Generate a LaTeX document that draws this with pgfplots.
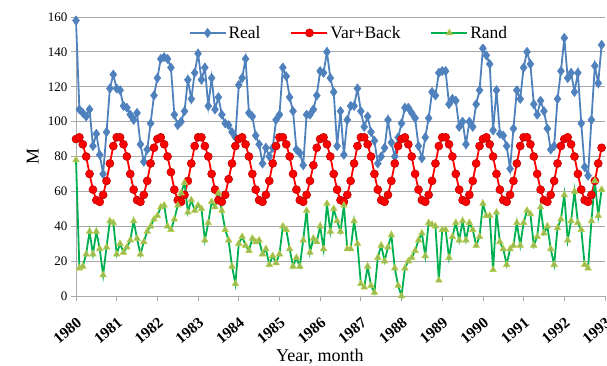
\documentclass[border=0pt]{standalone}
\usepackage{pgfplots}
\usepackage{pgfplotstable}
\pgfplotsset{compat=1.18}
\usepackage{fontspec}
\setmainfont{Liberation Serif}
\definecolor{realc}{RGB}{79,129,189}
\definecolor{randl}{RGB}{0,176,80}
\definecolor{randf}{RGB}{155,187,89}
\definecolor{gridc}{RGB}{170,170,170}

\pgfplotstableread{
m real vb rand
0 158 90 78
1 107 91 16
2 105 87 17
3 103 80 24
4 107 70 37
5 86 61 24
6 93 55 37
7 81 54 27
8 70 58 12
9 94 66 28
10 119 76 43
11 127 86 42
12 119 91 24
13 118 91 30
14 109 87 25
15 108 80 28
16 104 70 32
17 101 61 43
18 105 55 33
19 87 54 24
20 77 58 31
21 84 66 37
22 99 76 40
23 115 85 44
24 125 90 46
25 136 91 51
26 137 87 52
27 136 80 40
28 131 71 38
29 104 61 44
30 98 55 52
31 100 54 59
32 106 58 65
33 124 66 48
34 113 76 55
35 128 86 49
36 139 91 52
37 124 91 50
38 131 86 32
39 109 80 42
40 125 70 54
41 107 61 51
42 114 55 59
43 104 54 49
44 99 58 38
45 98 67 32
46 94 76 17
47 91 86 7
48 121 90 30
49 125 91 34
50 136 87 29
51 105 80 26
52 103 70 33
53 92 61 31
54 87 55 32
55 76 54 24
56 85 58 27
57 80 66 18
58 85 76 23
59 101 86 19
60 104 91 24
61 131 91 40
62 126 87 38
63 114 80 27
64 106 70 17
65 84 61 22
66 82 55 17
67 75 54 32
68 104 58 49
69 104 66 25
70 107 75 33
71 115 85 31
72 129 90 40
73 128 91 27
74 140 87 53
75 125 80 37
76 117 70 50
77 86 61 43
78 106 55 37
79 81 54 52
80 101 58 27
81 109 66 27
82 109 76 43
83 119 86 30
84 106 91 7
85 97 91 5
86 103 87 17
87 94 80 6
88 89 70 2
89 76 61 22
90 80 55 29
91 85 54 20
92 101 58 28
93 88 66 35
94 80 76 16
95 91 86 6
96 99 90 0
97 108 91 16
98 108 87 20
99 105 80 22
100 102 70 26
101 86 61 32
102 79 55 36
103 91 54 23
104 102 58 42
105 117 66 41
106 115 76 40
107 128 86 9
108 129 91 38
109 129 91 38
110 110 87 22
111 113 80 34
112 112 70 42
113 97 61 32
114 100 55 43
115 87 54 32
116 100 58 42
117 97 66 38
118 110 76 29
119 118 86 34
120 142 90 53
121 138 91 46
122 133 87 46
123 95 80 15
124 118 70 48
125 93 61 31
126 92 55 27
127 86 54 18
128 73 58 27
129 96 66 29
130 118 76 42
131 113 86 29
132 131 91 42
133 140 91 49
134 133 87 47
135 110 80 29
136 104 70 34
137 112 61 51
138 106 55 36
139 96 54 40
140 84 58 27
141 86 66 18
142 113 76 39
143 129 86 44
144 148 90 58
145 125 91 32
146 128 87 43
147 117 80 60
148 128 70 42
149 99 61 38
150 74 55 18
151 69 54 16
152 101 58 43
153 132 66 66
154 122 76 46
155 144 85 61
}\data

\begin{document}
\begin{tikzpicture}
\begin{axis}[
  width=529pt, height=279pt, scale only axis,
  xmin=0, xmax=156, ymin=0, ymax=160,
  clip=false,
  axis lines*=left,
  axis line style={gridc, line width=0.8pt},
  xtick={0,12,24,36,48,60,72,84,96,108,120,132,144,156},
  xticklabels={1980,1981,1982,1983,1984,1985,1986,1987,1988,1989,1990,1991,1992,1993},
  ytick={0,20,40,60,80,100,120,140,160},
  tick align=outside,
  major tick length=5pt,
  tick style={gridc, line width=0.8pt},
  ymajorgrids,
  grid style={gridc, line width=0.8pt},
  /pgf/number format/assume math mode=true,
  yticklabel style={font=\fontsize{13}{15}\selectfont},
  xticklabel style={font=\fontsize{15.5}{17}\selectfont\bfseries, inner sep=0pt, shift={(0pt,-15pt)}, rotate=40, anchor=north east},
  xlabel={Year, month},
  ylabel={M},
  xlabel style={font=\fontsize{18}{20}\selectfont, at={(axis description cs:0.461,-0.218)}, anchor=center},
  ylabel style={font=\fontsize{18}{20}\selectfont, at={(axis description cs:-0.082,0.5)}, anchor=center},
  legend columns=3,
  legend cell align=left,
  legend style={at={(0.516,0.943)}, anchor=center, draw=none, fill=white,
    font=\fontsize{17.5}{19}\selectfont,
    /tikz/every even column/.append style={column sep=28pt}},
  legend image code/.code={\draw[mark repeat=2, mark phase=2, #1] plot coordinates {(0pt,0pt) (18pt,0pt) (36pt,0pt)};},
]
\addplot[realc, line width=1.8pt, mark=diamond*, mark size=4.6pt, mark options={fill=realc, draw=realc, line width=0.5pt}] table[x=m, y=real]{\data};
\addlegendentry{Real}
\addplot[red, line width=1.8pt, mark=*, mark size=4pt, mark options={fill=red, draw=red!75!black, line width=0.6pt}] table[x=m, y=vb]{\data};
\addlegendentry{Var+Back}
\addplot[randl, line width=1.8pt, mark=triangle*, mark size=3.8pt, mark options={fill=randf, draw=randf!70!yellow, line width=0.5pt}] table[x=m, y=rand]{\data};
\addlegendentry{Rand}
\end{axis}
\pgfresetboundingbox
\path[use as bounding box] ([shift={(-76pt,-69pt)}]current axis.south west) rectangle ([shift={(2pt,17pt)}]current axis.north east);
\end{tikzpicture}
\end{document}
